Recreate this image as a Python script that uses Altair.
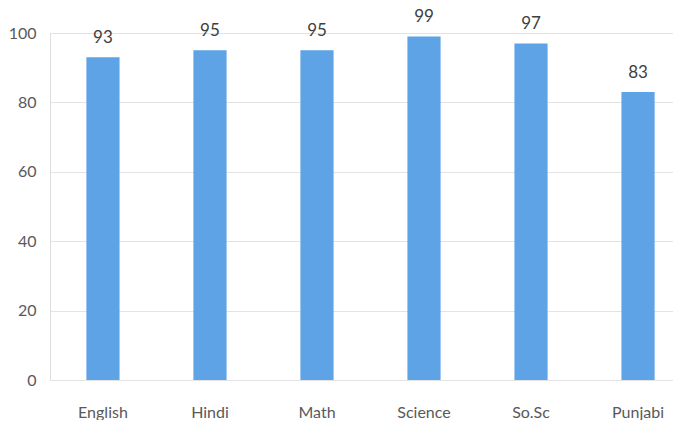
import altair as alt
import pandas as pd

subjects = ["English", "Hindi", "Math", "Science", "So.Sc", "Punjabi"]
scores = [93, 95, 95, 99, 97, 83]

df = pd.DataFrame({"subject": subjects, "score": scores})

FONT = "Lato, Liberation Sans, sans-serif"

base = alt.Chart(df).encode(
    x=alt.X("subject:N", sort=subjects,
            scale=alt.Scale(range=[0, 641], paddingInner=0.69, paddingOuter=0.34),
            axis=alt.Axis(title=None, labelAngle=0, domain=False, ticks=False,
                          labelPadding=24, labelFontSize=16, labelFont=FONT,
                          labelColor="#595959", labelBaseline="top")),
    y=alt.Y("score:Q", scale=alt.Scale(domain=[0, 100], nice=False),
            axis=alt.Axis(title=None, values=[0, 20, 40, 60, 80, 100], domain=False,
                          ticks=False, labelPadding=14, labelFontSize=16, labelFont=FONT,
                          labelColor="#595959", gridColor="#e3e3e3", gridWidth=1.2)),
)

bars = base.mark_bar(color="#5DA3E6")
labels = base.mark_text(baseline="alphabetic", dy=-14, fontSize=17, font=FONT,
                        color="#404040").encode(text="score:Q")

chart = (bars + labels).properties(
    width=623, height=347,
    autosize=alt.AutoSizeParams(type="none"),
    padding={"left": 42, "top": 25, "right": 0, "bottom": 40},
).configure_view(stroke=None).configure(background="white")

chart.save("out.html", embed_options={"renderer": "svg", "actions": False})
